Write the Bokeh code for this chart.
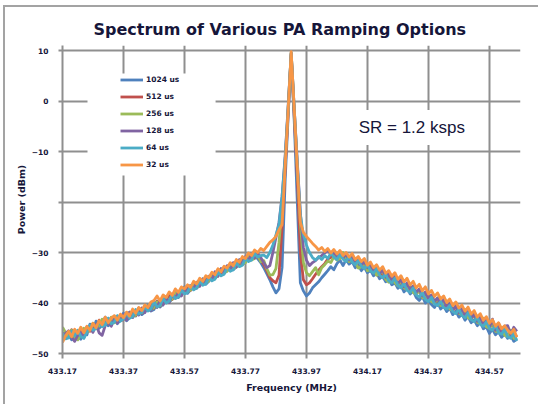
from bokeh.plotting import figure
from bokeh.models import (Legend, LegendItem, FixedTicker, Label, BoxAnnotation,
                          Range1d, NumeralTickFormatter)
from bokeh.embed import file_html
from bokeh.resources import INLINE

# ---------------- data ----------------
freq = [round(433.17 + 0.01 * i, 2) for i in range(150)]  # MHz sampling grid

series_labels = ["1024 us", "512 us", "256 us", "128 us", "64 us", "32 us"]
series_colors = ["#4F81BD", "#C0504D", "#9BBB59", "#8064A2", "#4BACC6", "#F79646"]

us1024 = [-45.8, -47.0, -46.1, -47.3, -45.4, -46.6, -47.2, -45.6, -46.3, -44.2,
          -45.5, -43.6, -45.0, -44.4, -42.8, -44.5, -43.9, -42.6, -44.1, -43.4,
          -42.0, -43.5, -42.9, -41.5, -42.6, -41.0, -42.3, -41.8, -40.4, -41.6,
          -41.3, -39.6, -40.8, -40.2, -38.7, -39.8, -39.2, -37.8, -38.9, -38.3,
          -36.8, -38.1, -37.4, -36.0, -37.1, -36.4, -35.2, -36.3, -35.7, -34.2,
          -35.1, -34.6, -33.2, -34.1, -33.6, -32.3, -33.4, -32.8, -31.5, -32.4,
          -31.9, -30.6, -31.4, -30.9, -31.2,
          -32.0, -33.0, -34.2, -35.4, -36.8, -38.0, -37.2, -33.0, -16.0, -3.0,
          9.0, -4.0, -20.0, -36.0, -37.6, -38.6, -38.0, -37.0, -36.4, -35.8, -35.0,
          -34.3, -33.6, -32.8, -33.4, -32.2, -31.5, -32.6, -31.4, -32.3, -31.8,
          -33.0, -32.4, -33.6, -32.9, -34.0, -33.5, -34.6, -34.0, -35.2, -34.7,
          -35.8, -35.2, -36.4, -36.0, -37.1, -36.5, -37.8, -37.0, -38.2, -37.6,
          -38.9, -39.5, -38.7, -40.0, -39.4, -40.3, -40.9, -39.8, -41.2, -40.6,
          -41.7, -41.0, -42.3, -41.6, -42.8, -42.2, -43.4, -42.7, -43.9, -43.3,
          -44.5, -43.8, -45.1, -44.7, -46.0, -45.2, -46.3, -45.7, -46.8, -46.1,
          -47.0, -46.4, -47.6, -47.2]

us512 = [-46.9, -45.8, -46.7, -45.3, -46.4, -47.0, -45.6, -46.1, -44.7, -45.6,
         -44.1, -45.0, -43.4, -44.3, -43.0, -44.1, -42.9, -43.8, -42.6, -43.5,
         -43.3, -42.0, -42.9, -41.6, -42.5, -41.1, -42.0, -40.7, -41.5, -40.2,
         -41.0, -39.7, -40.6, -39.2, -39.9, -38.5, -39.3, -38.0, -38.6, -37.3,
         -38.0, -36.7, -37.5, -36.1, -36.8, -35.5, -36.2, -35.0, -35.6, -34.2,
         -34.8, -33.5, -34.2, -32.9, -33.6, -32.3, -33.0, -31.8, -32.4, -31.1,
         -31.8, -30.5, -31.2, -30.2, -30.9,
         -31.5, -32.4, -33.6, -35.0, -35.6, -36.0, -34.5, -25.0, -13.5, -2.5,
         9.3, -3.0, -15.0, -30.0, -35.4, -36.4, -36.0, -35.2, -34.3, -33.5, -32.8,
         -32.2, -31.3, -31.0, -30.2, -30.8, -30.0, -31.2, -30.5, -31.6, -30.9,
         -32.3, -31.5, -32.8, -32.0, -33.4, -32.7, -34.0, -33.2, -34.6, -33.9,
         -35.2, -34.5, -35.8, -35.1, -36.4, -35.7, -37.0, -36.3, -37.6, -36.9,
         -38.2, -37.5, -38.8, -38.1, -39.4, -38.7, -39.9, -39.2, -40.4, -39.6,
         -40.9, -40.1, -41.4, -40.7, -42.0, -41.3, -42.5, -41.8, -43.1, -42.4,
         -43.7, -43.0, -44.3, -43.6, -44.9, -44.2, -45.5, -44.8, -46.1, -45.3,
         -46.5, -45.7, -46.9, -46.3]

us256 = [-44.8, -45.9, -46.8, -45.4, -46.9, -47.3, -46.2, -45.0, -45.8, -45.3,
         -44.0, -45.1, -44.5, -43.2, -44.2, -43.9, -42.8, -43.9, -43.6, -42.5,
         -43.0, -42.9, -41.8, -42.7, -42.4, -41.2, -41.9, -41.6, -40.5, -41.3,
         -40.9, -39.8, -40.5, -40.2, -38.9, -39.6, -39.2, -37.9, -38.7, -38.3,
         -37.0, -37.8, -37.4, -36.1, -36.9, -36.6, -35.3, -36.0, -35.6, -34.2,
         -35.0, -34.6, -33.3, -34.0, -33.7, -32.4, -33.2, -32.9, -31.5, -32.3,
         -32.0, -30.7, -31.5, -31.2, -30.3,
         -31.8, -31.6, -33.2, -34.5, -34.4, -33.2, -28.0, -21.0, -12.0, -1.5,
         9.5, -2.0, -13.0, -24.0, -32.0, -34.0, -34.6, -33.8, -33.0, -34.4, -33.0,
         -32.4, -31.7, -32.0, -30.8, -31.5, -31.2, -30.0, -30.9, -31.8, -31.3,
         -32.0, -33.1, -32.8, -32.0, -33.6, -33.4, -33.0, -34.5, -34.2, -33.6,
         -35.3, -35.9, -34.8, -36.0, -36.6, -35.5, -37.0, -37.4, -36.6, -37.9,
         -38.3, -37.4, -38.9, -39.1, -38.2, -39.7, -40.0, -39.0, -40.5, -40.2,
         -39.6, -41.2, -41.5, -40.5, -42.0, -42.4, -41.3, -42.9, -43.2, -42.1,
         -43.8, -44.1, -43.0, -44.7, -45.0, -43.9, -45.6, -45.8, -44.8, -46.4,
         -46.6, -45.4, -47.0, -46.8]

us128 = [-47.4, -46.0, -45.5, -46.8, -47.6, -46.4, -45.7, -46.9, -45.3, -45.0,
         -45.8, -44.2, -45.9, -46.4, -44.5, -43.7, -44.6, -43.2, -44.0, -42.8,
         -42.3, -43.4, -41.8, -42.9, -41.5, -42.4, -41.0, -41.9, -40.6, -41.5,
         -39.8, -40.9, -39.5, -40.4, -39.0, -39.9, -38.3, -39.1, -37.9, -38.6,
         -37.0, -37.9, -36.5, -37.3, -35.9, -36.7, -35.3, -36.1, -34.7, -35.5,
         -33.8, -34.7, -33.2, -34.1, -32.6, -33.5, -32.0, -32.9, -31.4, -32.2,
         -30.8, -31.6, -30.3, -31.1, -30.1,
         -31.0, -32.0, -33.0, -32.6, -30.0, -27.0, -24.0, -19.0, -11.0, -1.0,
         9.5, -1.5, -12.0, -22.0, -29.0, -31.5, -32.6, -32.0, -31.6, -31.0, -30.6,
         -30.1, -29.5, -30.4, -29.8, -30.7, -29.9, -31.0, -30.3, -31.5, -30.6,
         -31.9, -31.2, -32.5, -31.8, -33.0, -32.2, -33.6, -32.8, -34.2, -33.4,
         -34.9, -34.0, -35.5, -34.7, -36.2, -35.3, -36.8, -36.0, -37.3, -36.6,
         -37.9, -37.2, -38.6, -37.8, -39.1, -38.4, -39.7, -39.0, -40.1, -39.3,
         -40.8, -40.0, -41.4, -40.6, -41.9, -41.1, -42.5, -41.7, -43.0, -42.2,
         -43.6, -42.8, -44.2, -43.4, -44.8, -43.2, -45.4, -44.0, -45.9, -44.6,
         -44.5, -46.2, -44.8, -45.6]

us64 = [-46.0, -47.1, -46.9, -45.6, -46.5, -45.4, -46.6, -47.0, -45.7, -44.4,
        -45.4, -45.0, -43.6, -44.7, -44.4, -43.0, -44.1, -43.8, -42.5, -43.6,
        -43.2, -41.9, -43.0, -42.7, -41.3, -42.2, -41.9, -40.6, -41.6, -41.2,
        -39.8, -40.8, -40.5, -39.1, -40.0, -39.6, -38.2, -39.1, -38.8, -37.4,
        -38.2, -37.9, -36.5, -37.4, -37.0, -35.6, -36.5, -36.2, -34.8, -35.6,
        -35.3, -33.9, -34.6, -34.3, -32.9, -33.7, -33.4, -32.0, -32.8, -32.5,
        -31.1, -31.8, -31.5, -30.2, -30.9,
        -30.6, -30.5, -31.0, -30.0, -28.5, -26.5, -24.5, -19.0, -11.5, -1.5,
        9.6, -1.5, -12.5, -22.5, -26.5, -28.5, -30.0, -31.0, -31.5, -30.8, -31.4,
        -30.6, -31.2, -30.1, -30.9, -31.4, -30.4, -31.3, -31.8, -30.8, -31.9,
        -32.4, -31.6, -32.7, -33.2, -32.4, -33.6, -34.1, -33.2, -34.5, -35.0,
        -34.3, -35.6, -36.0, -35.1, -36.5, -37.0, -36.1, -37.5, -37.9, -37.0,
        -38.4, -38.8, -37.9, -39.3, -39.7, -38.9, -40.2, -40.5, -39.7, -40.9,
        -41.2, -40.5, -41.7, -42.1, -41.2, -42.5, -42.9, -41.9, -43.3, -43.7,
        -42.8, -44.2, -44.6, -43.7, -45.0, -45.4, -44.4, -45.9, -46.2, -45.2,
        -46.7, -47.0, -46.0, -47.5]

us32 = [-47.8, -46.5, -45.6, -46.7, -45.2, -46.0, -44.8, -45.9, -44.6, -45.4,
        -44.0, -44.9, -43.5, -44.3, -42.8, -43.9, -43.0, -42.5, -43.4, -42.2,
        -42.9, -41.8, -42.6, -41.2, -42.0, -40.9, -41.5, -40.4, -40.9, -39.8,
        -39.5, -38.6, -39.6, -38.4, -38.9, -37.8, -38.5, -37.2, -37.9, -36.8,
        -37.2, -36.4, -36.9, -35.7, -36.2, -35.1, -35.7, -34.6, -35.0, -33.9,
        -34.4, -33.2, -33.8, -32.7, -33.1, -32.0, -32.6, -31.4, -31.9, -30.8,
        -31.2, -30.1, -30.6, -29.5, -30.0,
        -29.2, -29.6, -28.8, -28.0, -27.5, -26.8, -25.5, -24.5, -13.0, -1.7,
        9.8, -1.5, -13.0, -24.0, -26.0, -26.8, -27.5, -28.2, -28.8, -29.5, -29.0,
        -29.8, -29.2, -30.1, -29.4, -30.3, -29.6, -30.6, -30.0, -30.9, -30.2,
        -31.4, -30.8, -31.8, -31.2, -32.5, -31.9, -33.0, -32.4, -33.5, -32.8,
        -34.1, -33.6, -34.7, -34.0, -35.3, -34.6, -35.8, -35.1, -36.4, -35.7,
        -37.0, -36.3, -37.6, -36.8, -38.2, -37.5, -38.7, -38.0, -39.2, -38.6,
        -39.9, -39.2, -40.5, -39.8, -41.0, -40.4, -41.6, -40.8, -42.2, -41.5,
        -42.8, -42.1, -43.4, -42.7, -44.0, -43.3, -44.6, -43.9, -45.1, -44.5,
        -45.4, -46.0, -45.2, -46.8]

series_values = [us1024, us512, us256, us128, us64, us32]

freq_ticks = [433.17, 433.37, 433.57, 433.77, 433.97, 434.17, 434.37, 434.57]
power_grid = [10, 0, -10, -20, -30, -40, -50]
power_labelled = [10, 0, -10, -30, -40, -50]   # the original shows no "-20" label
power_unlabelled = [-20]

title_text = "Spectrum of Various PA Ramping Options"
x_title = "Frequency (MHz)"
y_title = "Power (dBm)"
note_text = "SR = 1.2 ksps"

# ---------------- styling ----------------
GRID = "#8f8f8f"
TXT = "#16163a"
FONT = "DejaVu Sans"

# the chart sits inside a thin grey frame (top and left edges visible)
p = figure(width=535, height=399, output_backend="svg", toolbar_location=None,
           x_range=Range1d(433.17, 434.672), y_range=Range1d(-50, 11),
           min_border_left=57, min_border_right=20, min_border_top=38,
           min_border_bottom=53, title=title_text,
           styles={"border-top": "2px solid #a3a3a3", "border-left": "2px solid #a3a3a3",
                   "margin-left": "3px", "margin-top": "5px"})
p.outline_line_color = None
p.background_fill_color = "white"
p.border_fill_color = "white"

p.title.align = "left"
p.title.offset = 31
p.title.text_font = FONT
p.title.text_font_style = "bold"
p.title.text_font_size = "16px"
p.title.text_color = TXT
p.title.standoff = 14

for ax in (p.xaxis[0], p.yaxis[0]):
    ax.axis_line_color = GRID
    ax.axis_line_width = 2
    ax.major_tick_line_color = GRID
    ax.major_tick_line_width = 2
    ax.major_tick_in = 0
    ax.minor_tick_in = 0
    ax.major_label_text_font = FONT
    ax.major_label_text_font_style = "bold"
    ax.major_label_text_font_size = "7.5px"
    ax.major_label_text_color = TXT
    ax.axis_label_text_font = FONT
    ax.axis_label_text_font_style = "bold"
    ax.axis_label_text_font_size = "9.5px"
    ax.axis_label_text_color = TXT

p.xaxis.ticker = FixedTicker(ticks=freq_ticks)
p.xaxis.formatter = NumeralTickFormatter(format="0.00")
p.xaxis.major_tick_out = 5
p.xaxis.minor_tick_line_color = None
p.xaxis.major_label_standoff = 9
p.xaxis.axis_label = x_title
p.xaxis.axis_label_standoff = 5

p.yaxis.ticker = FixedTicker(ticks=power_labelled, minor_ticks=power_unlabelled)
p.yaxis.major_tick_out = 4
p.yaxis.minor_tick_out = 4
p.yaxis.minor_tick_line_color = GRID
p.yaxis.minor_tick_line_width = 2
p.yaxis.major_label_standoff = 10
p.yaxis.axis_label = y_title
p.yaxis.axis_label_standoff = 2

p.xgrid.ticker = FixedTicker(ticks=freq_ticks)
p.ygrid.ticker = FixedTicker(ticks=power_grid)
for g in (p.xgrid[0], p.ygrid[0]):
    g.grid_line_color = GRID
    g.grid_line_width = 2

renderers = []
for vals, col in zip(series_values, series_colors):
    renderers.append(p.line(freq, vals, line_color=col, line_width=2.8, line_join="round"))

# white background behind the legend (hides grid lines like the original)
legend_bg = BoxAnnotation(left=433.252, right=433.672, top=5.45, bottom=-14.75,
                          fill_color="white", fill_alpha=1.0, line_alpha=0)
p.add_layout(legend_bg)

legend = Legend(items=[LegendItem(label=l, renderers=[r]) for l, r in zip(series_labels, renderers)],
                location=(58, 180), glyph_width=23, glyph_height=17, label_height=17,
                spacing=0, padding=0, margin=0, label_standoff=3,
                label_text_font=FONT, label_text_font_style="bold",
                label_text_font_size="7.5px", label_text_color=TXT,
                background_fill_alpha=0, border_line_alpha=0)
p.add_layout(legend)

note = Label(x=434.115, y=-5.25, text=note_text, text_font="Liberation Sans",
             text_font_size="17px", text_color=TXT, text_baseline="middle",
             background_fill_color="white", background_fill_alpha=1.0, padding=8)
p.add_layout(note)

open("out.html", "w").write(file_html(p, INLINE))
